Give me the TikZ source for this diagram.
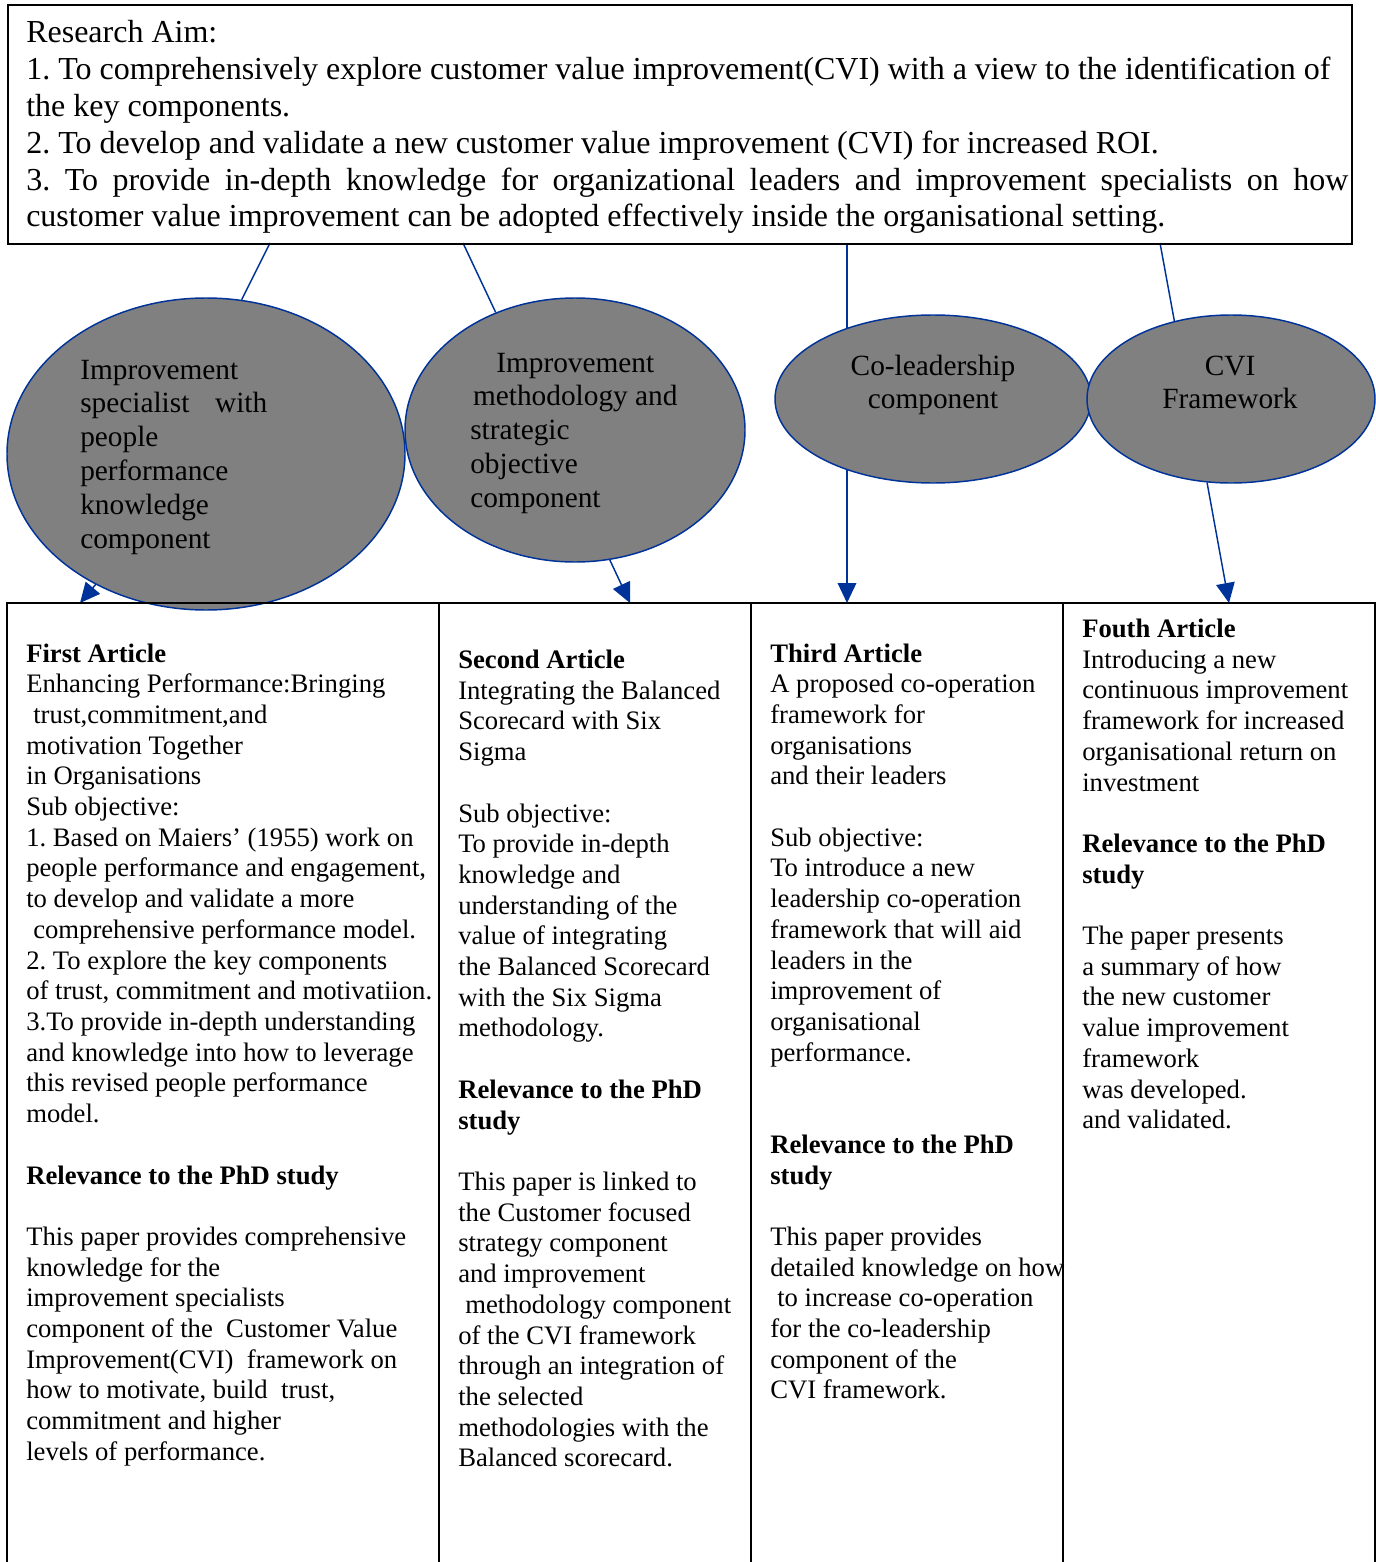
\documentclass[tikz,border=0pt]{standalone}
\usepackage{fontspec}
\setmainfont{Liberation Serif}
\usetikzlibrary{arrows.meta,shapes.geometric,backgrounds}

\definecolor{linkblue}{RGB}{0,51,153}
\definecolor{ovalgray}{RGB}{128,128,128}

% one drawing unit
\newlength\pxu
\setlength\pxu{0.75pt}

\newcommand\aimfont{\fontsize{24pt}{27.6pt}\selectfont}
\newcommand\colfont{\fontsize{20pt}{23.03pt}\selectfont}
\newcommand\ovalfont{\fontsize{22pt}{25.35pt}\selectfont}

\begin{document}
\frenchspacing
\begin{tikzpicture}[x=0.75pt,y=-0.75pt,
  aimbox/.style={draw=black, line width=1.5pt, inner sep=0, anchor=north west},
  oval/.style={ellipse, draw=linkblue, fill=ovalgray, line width=1.1pt, inner sep=0},
  link/.style={draw=linkblue, line width=1.1pt},
  linkarrow/.style={link, -{Triangle[length=15pt,width=14pt]}},
  txt/.style={inner sep=0, anchor=base west, text=black},
  ctxt/.style={inner sep=0, anchor=base, text=black},
  gridline/.style={draw=black, line width=1.5pt}]

\useasboundingbox (0,0) rectangle (1376,1562);

% research aim box
\node[aimbox, minimum width=1344*0.75pt, minimum height=239*0.75pt] (aim) at (7,4) {};
\node[txt] (aimtext) at (26,43) {\parbox[t]{1500\pxu}{\aimfont\raggedright
Research Aim:\\
1. To comprehensively explore customer value improvement(CVI) with a view to the identification of\\
the key components.\\
2. To develop and validate a new customer value improvement (CVI) for increased ROI.\\
\makebox[1322\pxu][s]{3. To provide in-depth knowledge for organizational leaders and improvement specialists on how}\\
customer value improvement can be adopted effectively inside the organisational setting.}};

% component ovals
\node[oval, minimum width=398*0.75pt, minimum height=312*0.75pt] (e1) at (206,454) {};
\node[oval, minimum width=340*0.75pt, minimum height=264*0.75pt] (e2) at (575,430) {};
\node[oval, minimum width=316*0.75pt, minimum height=168*0.75pt] (e3) at (933,399) {};
\node[oval, minimum width=288*0.75pt, minimum height=168*0.75pt] (e4) at (1231,399) {};

\node[txt] (e1text) at (80,379) {\parbox[t]{300\pxu}{\ovalfont\raggedright
Improvement\\
\makebox[187\pxu][s]{specialist with}\\
people\\
performance\\
knowledge\\
component}};
\node[txt] (e2text) at (470,372) {\parbox[t]{300\pxu}{\ovalfont\raggedright
\makebox[210\pxu]{Improvement}\\
\makebox[210\pxu]{methodology and}\\
strategic\\
objective\\
component}};
\node[ctxt] (e3text) at (933,375) {\parbox[t]{300\pxu}{\ovalfont\centering
Co-leadership\\
component}};
\node[ctxt] (e4text) at (1230,375) {\parbox[t]{300\pxu}{\ovalfont\centering
CVI\\
Framework}};

% article columns (open at the bottom)
\coordinate (cl) at (7,603);
\coordinate (cr) at (1375,603);
\draw[gridline] (7,1562) -- (cl) -- (cr) -- (1375,1562);
\foreach \cx in {439,751,1063} \draw[gridline] (\cx,603) -- (\cx,1562);

% connector ends on the aim box and on the columns
\coordinate (a1) at (270,243);
\coordinate (a2) at (463,243);
\coordinate (a3) at (847,243);
\coordinate (a4) at (1160,243);
\coordinate (t1) at (80,603);
\coordinate (t2) at (630,603);
\coordinate (t3) at (847,603);
\coordinate (t4) at (1229,603);

\begin{pgfonlayer}{background}
  \draw[link] (a1) -- (e1.77.5);
  \draw[link] (a2) -- (e2.124);
  \draw[link] (a3) -- (a3 |- e3.center);
  \draw[link] (a4) -- (e4.126);
  \draw[linkarrow] (e1.center) -- (t1);
  \draw[linkarrow] (e2.-75) -- (t2);
  \draw[linkarrow] (t3 |- e3.center) -- (t3);
  \draw[linkarrow] (e4.-106) -- (t4);
\end{pgfonlayer}

% column texts
\node[txt] (c1text) at (26,662) {\parbox[t]{600\pxu}{\colfont\raggedright
\textbf{First Article}\\
Enhancing Performance:Bringing\\
\hspace*{7\pxu}trust,commitment,and\\
motivation Together\\
in Organisations\\
Sub objective:\\
1. Based on Maiers’ (1955) work on\\
people performance and engagement,\\
to develop and validate a more\\
\hspace*{7\pxu}comprehensive performance model.\\
2. To explore the key components\\
of trust, commitment and motivatiion.\\
3.To provide in-depth understanding\\
and knowledge into how to leverage\\
this revised people performance\\
model.\\
\mbox{}\\
\textbf{Relevance to the PhD study}\\
\mbox{}\\
This paper provides comprehensive\\
knowledge for the\\
improvement specialists\\
component of the\ \ Customer Value\\
Improvement(CVI)\ \ framework on\\
how to motivate, build\ \ trust,\\
commitment and higher\\
levels of performance.}};

\node[txt] (c2text) at (458,668.5) {\parbox[t]{600\pxu}{\colfont\raggedright
\textbf{Second Article}\\
Integrating the Balanced\\
Scorecard with Six\\
Sigma\\
\mbox{}\\
Sub objective:\\
To provide in-depth\\
knowledge and\\
understanding of the\\
value of integrating\\
the Balanced Scorecard\\
with the Six Sigma\\
methodology.\\
\mbox{}\\
\textbf{Relevance to the PhD}\\
\textbf{study}\\
\mbox{}\\
This paper is linked to\\
the Customer focused\\
strategy component\\
and improvement\\
\hspace*{7\pxu}methodology component\\
of the CVI framework\\
through an integration of\\
the selected\\
methodologies with the\\
Balanced scorecard.}};

\node[txt] (c3text) at (770,662) {\parbox[t]{600\pxu}{\colfont\raggedright
\textbf{Third Article}\\
A proposed co-operation\\
framework for\\
organisations\\
and their leaders\\
\mbox{}\\
Sub objective:\\
To introduce a new\\
leadership co-operation\\
framework that will aid\\
leaders in the\\
improvement of\\
organisational\\
performance.\\
\mbox{}\\
\mbox{}\\
\textbf{Relevance to the PhD}\\
\textbf{study}\\
\mbox{}\\
This paper provides\\
detailed knowledge on how\\
\hspace*{7\pxu}to increase co-operation\\
for the co-leadership\\
component of the\\
CVI framework.}};

\node[txt] (c4text) at (1082,637.5) {\parbox[t]{600\pxu}{\colfont\raggedright
\textbf{Fouth Article}\\
Introducing a new\\
continuous improvement\\
framework for increased\\
organisational return on\\
investment\\
\mbox{}\\
\textbf{Relevance to the PhD}\\
\textbf{study}\\
\mbox{}\\
The paper presents\\
a summary of how\\
the new customer\\
value improvement\\
framework\\
was developed.\\
and validated.}};

\end{tikzpicture}
\end{document}
